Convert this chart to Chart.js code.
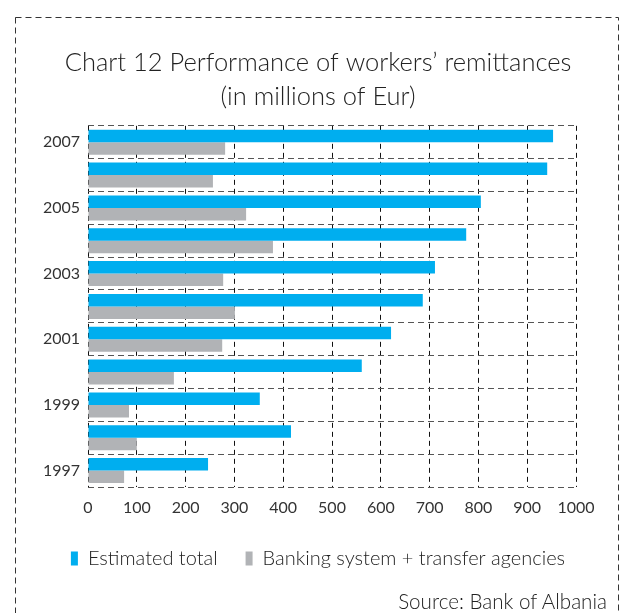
<!DOCTYPE html>
<html>
<head>
<meta charset="utf-8">
<script src="https://cdn.jsdelivr.net/npm/chart.js@4"></script>
<style>
  body { margin: 0; background: #fff; }
  #wrap { position: absolute; left: 0; top: 0; width: 621px; height: 613px; }
  #frame { position: absolute; left: 0; top: 0; }
  #source { position: absolute; right: 14px; top: 589px; font-family: Lato, sans-serif; font-weight: 300; font-size: 20.6px; color: #222; }
</style>
</head>
<body>
<svg id="frame" width="621" height="613">
  <rect x="15.5" y="17.5" width="603" height="640" fill="none" stroke="#333" stroke-width="1" stroke-dasharray="6 4"/>
</svg>
<div id="wrap"><canvas id="remitChart"></canvas></div>
<div id="source">Source: Bank of Albania</div>
<script>
const years = ['1997','1998','1999','2000','2001','2002','2003','2004','2005','2006','2007'];
const estimatedTotal = [246, 416, 352, 561, 621, 686, 711, 775, 805, 941, 953];
const bankingAgencies = [74, 100, 84, 176, 275, 301, 277, 379, 324, 256, 281];
const xTicks = [0, 100, 200, 300, 400, 500, 600, 700, 800, 900, 1000];

Chart.defaults.font.family = 'Lato, sans-serif';
Chart.defaults.color = '#333';

const ctx = document.getElementById('remitChart');

const remitChart = new Chart(ctx, {
    type: 'bar',
    data: {
        labels: years,
        datasets: [
            {label: 'Estimated total', data: estimatedTotal, backgroundColor: '#00AEEF'},
            {label: 'Banking system + transfer agencies', data: bankingAgencies, backgroundColor: '#B1B3B6'}
        ]
    },
    options: {
        indexAxis: 'y',
        responsive: true,
        maintainAspectRatio: false,
        animation: false,
        layout: {padding: {left: 15, right: 0, top: 0, bottom: 34.5}},
        datasets: {bar: {categoryPercentage: 0.76, barPercentage: 1, borderWidth: 0}},
        scales: {
            x: {
                min: 0, max: 1000,
                afterBuildTicks: axis => { axis.ticks = xTicks.map(v => ({value: v})); },
                afterFit: axis => { axis.height = 33.5; },
                ticks: {padding: 11, font: {size: 16}, color: '#333', callback: v => String(v)},
                grid: {color: '#111', lineWidth: 1, drawTicks: false},
                border: {display: false, dash: [5, 4]}
            },
            y: {
                reverse: true,
                afterFit: axis => { axis.width = 73; },
                ticks: {
                    padding: 8, autoSkip: false, font: {size: 16}, color: '#333',
                    callback: function(value) {
                        const yr = this.getLabelForValue(value);
                        return Number(yr) % 2 === 1 ? yr : '';
                    }
                },
                grid: {color: '#555', lineWidth: 1, drawTicks: false, offset: true},
                border: {display: false, dash: [6, 4]}
            },
            y2: {
                position: 'right',
                afterFit: axis => { axis.width = 45; },
                ticks: {display: false},
                grid: {display: false},
                border: {display: false}
            }
        },
        plugins: {
            title: {
                display: true,
                text: ['Chart 12 Performance of workers’ remittances', '(in millions of Eur)'],
                font: {size: 25.5, weight: 300, lineHeight: 1.33},
                color: '#222',
                padding: {top: 46, bottom: 12}
            },
            legend: {
                position: 'bottom',
                labels: {boxWidth: 7, boxHeight: 14, padding: 28, font: {size: 20, weight: 300}, color: '#222'}
            },
            tooltip: {enabled: false}
        }
    }
});
</script>
</body>
</html>
